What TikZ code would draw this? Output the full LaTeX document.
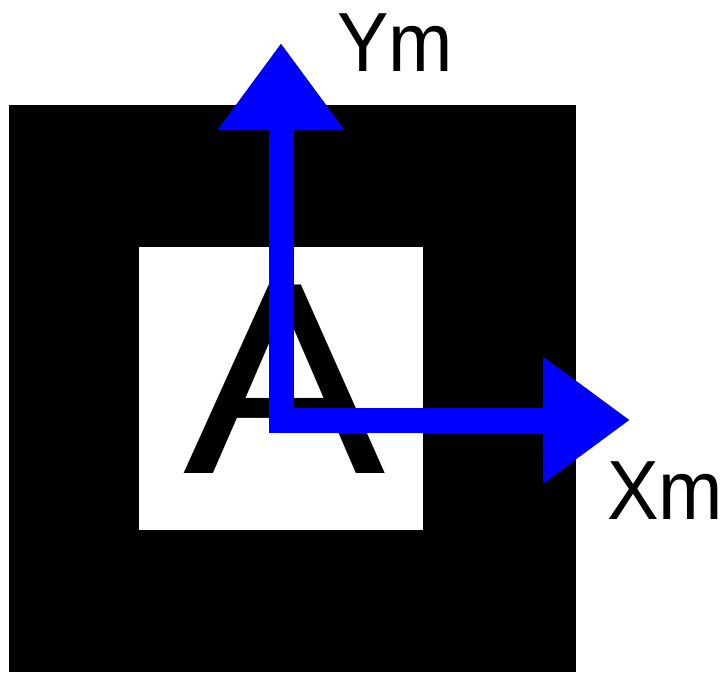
\documentclass[tikz,border=0pt]{standalone}
\usepackage{fontspec}
\setmainfont{Liberation Sans}
\usetikzlibrary{arrows.meta}

\tikzset{
  axisarrow/.style={draw=blue,line width=25pt,line join=miter,
    -{Triangle[length=87pt,width=121pt]}},
  axislabel/.style={anchor=base west,inner sep=0pt,xscale=0.92,
    font=\fontsize{84}{90}\selectfont}
}

\begin{document}
\begin{tikzpicture}[x=1pt,y=-1pt]
\useasboundingbox (0,0) rectangle (724,673);

\fill[black] (9,105) rectangle (576,672);
\fill[white] (139,247) rectangle (423,530);
\node[anchor=base,inner sep=0pt,xscale=1.107,font=\fontsize{274}{280}\selectfont] (letter) at (284.5,473) {A};

\coordinate (origin) at (281,420);
\coordinate (ytip) at (281,43);
\coordinate (xtip) at (630,420);
\draw[axisarrow] (origin) -- (ytip);
\draw[axisarrow] (origin) -- (xtip);
\fill[blue] (268.5,407.5) rectangle (293.5,432.5);

\node[axislabel] (ylabel) at (337,71) {Ym};
\node[axislabel] (xlabel) at (607,519) {Xm};
\end{tikzpicture}
\end{document}
